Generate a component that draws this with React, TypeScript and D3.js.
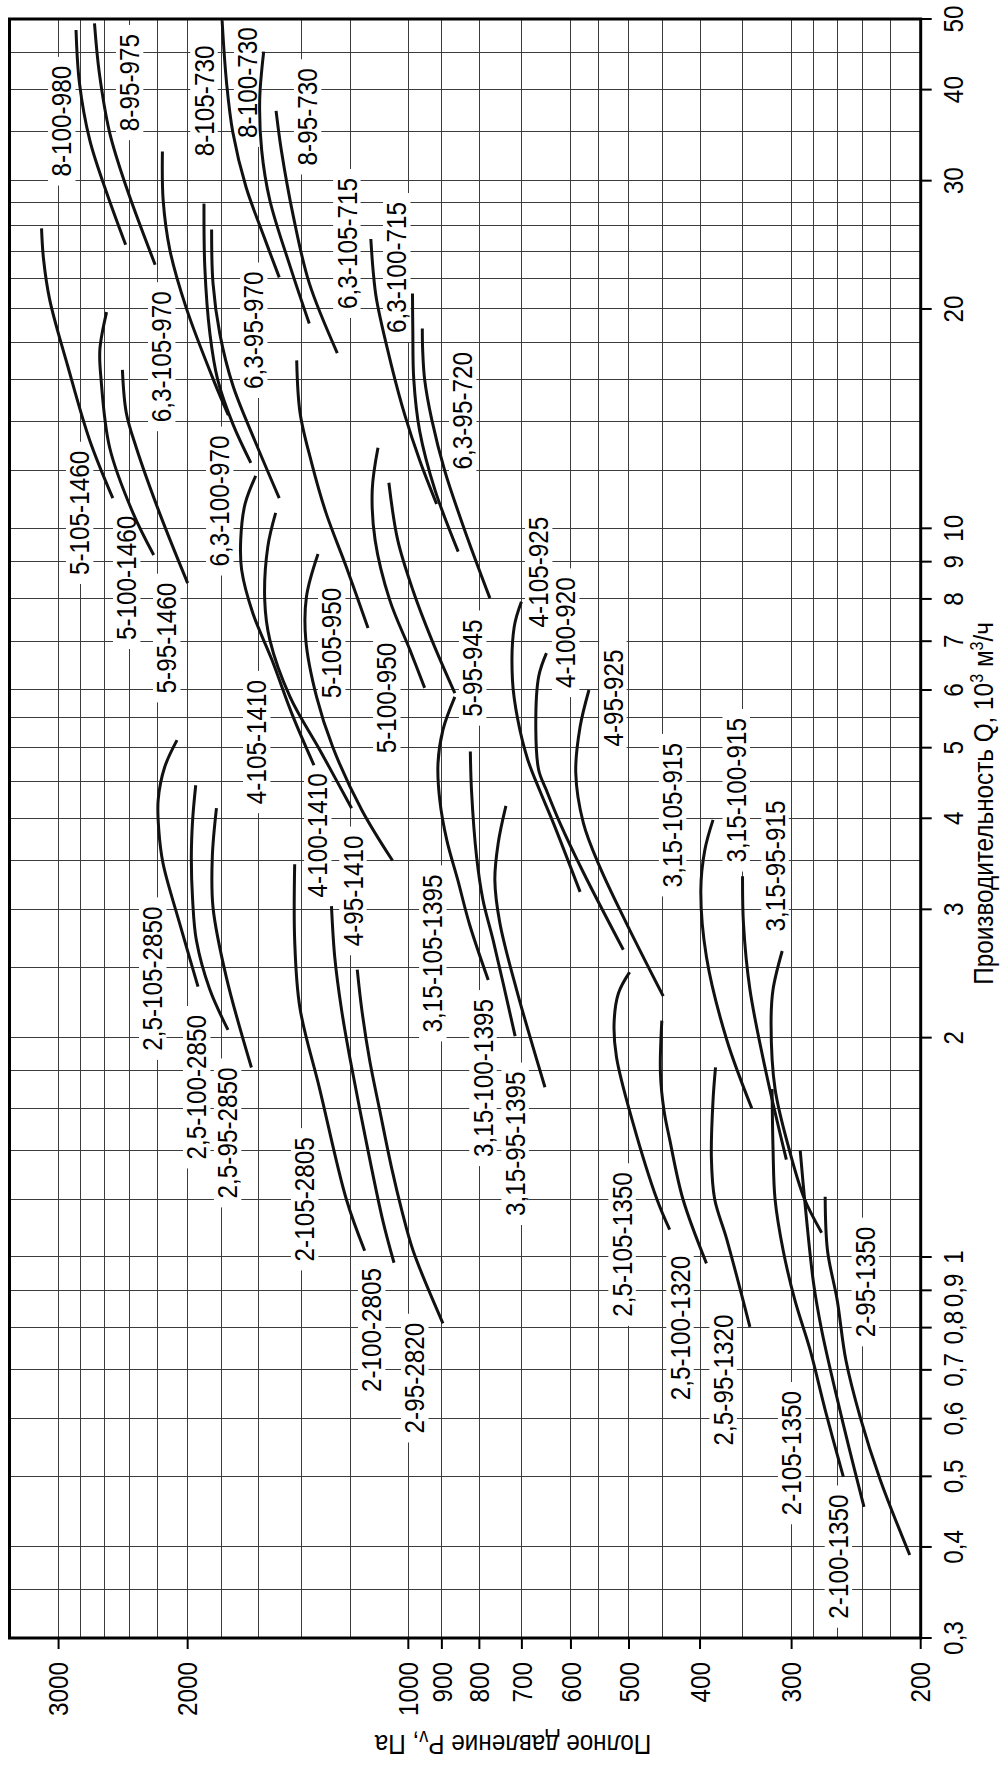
import * as d3 from "d3";
import { useEffect, useRef } from "react";

const W = 1001;
const H = 1765;

// линии сетки (Q в тыс. м3/ч, P в Па)
const qGrid = [0.35, 0.4, 0.5, 0.6, 0.7, 0.8, 0.9, 1, 1.2, 1.4, 1.6, 1.8, 2, 2.5, 3, 3.5, 4, 4.5, 5, 5.5, 6, 7, 8, 9, 10,
  12, 14, 16, 18, 20, 22, 24, 26, 28, 30, 35, 40, 45];
const pGrid = [220, 240, 260, 280, 300, 350, 400, 450, 500, 550, 600, 700, 800, 900, 1000, 1200, 1400, 1600, 1800, 2000,
  2200, 2400, 2600, 2800, 3000];

// деления и подписи осей
const qTicks = [0.3, 0.4, 0.5, 0.6, 0.7, 0.8, 0.9, 1, 2, 3, 4, 5, 6, 7, 8, 9, 10, 20, 30, 40, 50];
const qTickLabels = ["0,3", "0,4", "0,5", "0,6", "0,7", "0,8", "0,9", "1", "2", "3", "4", "5", "6", "7", "8", "9", "10",
  "20", "30", "40", "50"];
const pTicks = [200, 300, 400, 500, 600, 700, 800, 900, 1000, 2000, 3000];
const pTickLabels = ["200", "300", "400", "500", "600", "700", "800", "900", "1000", "2000", "3000"];

// характеристики вентиляторов: имя, точки Q и P
const curveNames = [
  "8-100-980", "8-95-975", "8-105-730", "8-100-730", "8-95-730",
  "6,3-105-970", "6,3-100-970", "6,3-95-970", "6,3-105-715", "6,3-100-715", "6,3-95-720",
  "5-105-1460", "5-100-1460", "5-95-1460", "5-105-950", "5-100-950", "5-95-945",
  "4-105-1410", "4-100-1410", "4-95-1410", "4-105-925", "4-100-920", "4-95-925",
  "3,15-105-1395", "3,15-100-1395", "3,15-95-1395", "3,15-105-915", "3,15-100-915", "3,15-95-915",
  "2,5-105-2850", "2,5-100-2850", "2,5-95-2850", "2,5-105-1350", "2,5-100-1320", "2,5-95-1320",
  "2-105-2805", "2-100-2805", "2-95-2820", "2-105-1350", "2-100-1350", "2-95-1350",
];

const curveQ = [
  [48.3, 40.9, 34.1, 28.9, 24.5],
  [49.3, 42.2, 34.9, 29.4, 23.0],
  [49.8, 40.9, 34.9, 29.4, 25.4, 22.1],
  [45.1, 38.7, 33.0, 28.2, 22.9, 19.1],
  [37.4, 33.0, 26.8, 21.7, 17.4],
  [32.9, 28.2, 24.1, 20.1, 16.0, 14.3],
  [27.9, 22.8, 18.5, 16.0, 13.9, 12.3],
  [25.7, 21.7, 18.5, 15.7, 13.2, 11.0],
  [24.95, 22.6, 20.6, 16.7, 14.3, 12.4, 10.8],
  [21.0, 18.7, 16.0, 13.6, 11.3, 9.29],
  [18.8, 17.6, 16.0, 14.1, 12.0, 9.95, 8.02],
  [25.8, 23.4, 20.6, 16.7, 13.2, 11.0],
  [19.8, 17.6, 16.0, 12.9, 10.5, 9.19],
  [16.5, 14.4, 12.9, 10.5, 8.41],
  [17.0, 14.4, 12.3, 10.5, 8.85, 7.30],
  [12.9, 11.3, 9.64, 7.97, 6.81, 6.04],
  [11.55, 9.64, 8.23, 7.03, 5.94],
  [11.8, 10.8, 9.64, 8.77, 7.65, 6.60, 5.55, 4.73],
  [10.5, 9.43, 7.97, 7.03, 5.87, 4.96, 4.13],
  [9.22, 8.06, 7.03, 5.87, 5.01, 4.11, 3.50],
  [7.93, 7.33, 6.19, 5.46, 4.81, 4.37, 3.94, 3.17],
  [6.74, 6.26, 5.29, 4.66, 4.37, 3.94, 3.37, 2.64],
  [6.00, 5.34, 4.62, 3.94, 3.43, 2.87, 2.28],
  [5.87, 5.29, 4.76, 4.24, 3.73, 3.29, 2.86, 2.40],
  [4.94, 4.37, 3.54, 3.09, 2.72, 2.01],
  [4.16, 3.70, 3.29, 2.87, 2.33, 1.71],
  [3.98, 3.62, 3.19, 2.58, 1.99, 1.60],
  [3.33, 2.87, 2.33, 1.79, 1.36],
  [2.63, 2.33, 2.09, 1.70, 1.40, 1.20, 1.08],
  [5.12, 4.70, 4.24, 3.86, 3.47, 2.87, 2.35],
  [4.44, 3.98, 3.54, 3.09, 2.72, 2.33, 2.05],
  [4.13, 3.54, 3.02, 2.42, 1.82],
  [2.46, 2.30, 2.09, 1.88, 1.53, 1.20, 1.09],
  [2.11, 1.79, 1.59, 1.45, 1.20, 0.98],
  [1.82, 1.64, 1.37, 1.20, 1.06, 0.802],
  [3.46, 2.72, 2.20, 1.70, 1.20, 1.02],
  [3.03, 2.58, 2.18, 1.88, 1.45, 1.12, 0.982],
  [2.48, 2.18, 1.86, 1.59, 1.32, 1.16, 1.02, 0.811],
  [1.70, 1.40, 1.20, 1.02, 0.873, 0.745, 0.617, 0.499],
  [1.40, 1.20, 0.920, 0.794, 0.671, 0.552, 0.454],
  [1.21, 1.02, 0.873, 0.722, 0.604, 0.494, 0.390],
];

const curveP = [
  [2840, 2810, 2720, 2580, 2430],
  [2680, 2640, 2555, 2425, 2215],
  [1795, 1770, 1735, 1665, 1580, 1500],
  [1575, 1595, 1585, 1545, 1450, 1365],
  [1515, 1490, 1435, 1365, 1250],
  [2165, 2160, 2115, 2010, 1845, 1760],
  [1900, 1895, 1865, 1820, 1735, 1640],
  [1855, 1847, 1808, 1735, 1620, 1500],
  [1125, 1117, 1105, 1054, 1011, 965, 915],
  [987, 986, 983, 965, 920, 855],
  [957, 956, 950, 929, 892, 838, 774],
  [3165, 3145, 3085, 2915, 2720, 2530],
  [2580, 2635, 2625, 2555, 2375, 2225],
  [2455, 2425, 2350, 2185, 2000],
  [1420, 1405, 1355, 1295, 1215, 1135],
  [1100, 1120, 1110, 1060, 995, 950],
  [1063, 1034, 986, 929, 864],
  [1615, 1670, 1693, 1688, 1630, 1535, 1440, 1345],
  [1517, 1555, 1570, 1545, 1450, 1320, 1195],
  [1328, 1377, 1380, 1334, 1268, 1158, 1051],
  [701, 717, 721, 709, 687, 662, 634, 583],
  [648, 664, 670, 664, 648, 621, 577, 509],
  [567, 583, 591, 577, 548, 504, 449],
  [864, 897, 911, 906, 886, 856, 825, 778],
  [823, 820, 807, 791, 766, 715],
  [736, 754, 762, 750, 712, 651],
  [384, 394, 399, 392, 368, 340],
  [350, 349, 342, 325, 305],
  [309, 318, 320, 316, 302, 288, 273],
  [2068, 2150, 2194, 2190, 2161, 2051, 1936],
  [1950, 1969, 1977, 1969, 1946, 1866, 1762],
  [1827, 1851, 1847, 1771, 1637],
  [499, 517, 524, 520, 494, 458, 440],
  [451, 453, 448, 440, 422, 392],
  [381, 384, 386, 382, 368, 342],
  [1429, 1429, 1406, 1321, 1215, 1147],
  [1273, 1260, 1233, 1202, 1143, 1083, 1046],
  [1174, 1157, 1129, 1094, 1053, 1021, 985, 897],
  [319, 318, 316, 308, 297, 283, 270, 255],
  [292, 288, 280, 273, 263, 251, 239],
  [270, 268, 260, 253, 242, 227, 207],
];

// где стоит подпись каждой кривой (в единицах Q и P)
const labelQ = [36.2, 40.9, 38.6, 40.9, 36.7, 17.2, 10.9, 18.7, 24.6, 22.8, 14.5, 10.5, 8.55, 7.07, 6.96, 5.85, 6.43,
  5.09, 3.79, 3.18, 8.71, 7.19, 5.85, 2.61, 1.76, 1.43, 4.04, 4.37, 3.44, 2.41, 1.71, 1.48, 1.04, 0.799, 0.678,
  1.2, 0.794, 0.682, 0.538, 0.388, 0.924];
const labelP = [2970, 2400, 1900, 1656, 1372, 2170, 1808, 1625, 1213, 1037, 843, 2808, 2422, 2136, 1272, 1070, 817,
  1610, 1329, 1190, 664, 610, 526, 926, 791, 715, 436, 357, 316, 2232, 1944, 1764, 511, 426, 372,
  1385, 1122, 980, 300, 259, 238];

const FONT = "'Liberation Sans', Arial, sans-serif";
const FS = 27;
const SX = 0.9;

const App = () => {
  const ref = useRef<SVGSVGElement>(null);

  useEffect(() => {
    const svg = d3.select(ref.current);
    svg.selectAll("*").remove();

    const margin = { top: 19, bottom: 127, left: 9.5, right: 80.3 };
    const x = d3.scaleLog().domain([200, 3500]).range([W - margin.right, margin.left]);
    const y = d3.scaleLog().domain([0.3, 50]).range([H - margin.bottom, margin.top]);
    const x0 = x(3500), x1 = x(200), y0 = y(50), y1 = y(0.3);

    svg.append("rect").attr("width", W).attr("height", H).attr("fill", "#fff");

    // сетка
    const grid = svg.append("g").attr("stroke", "#3c3c3c").attr("stroke-width", 1).attr("shape-rendering", "crispEdges");
    grid.selectAll(".gp").data(pGrid).join("line")
      .attr("x1", d => x(d)).attr("x2", d => x(d)).attr("y1", y0).attr("y2", y1);
    grid.selectAll(".gq").data(qGrid).join("line")
      .attr("y1", d => y(d)).attr("y2", d => y(d)).attr("x1", x0).attr("x2", x1);

    // подписи кривых на белой подложке
    const labels = svg.append("g").attr("font-family", FONT).attr("font-size", FS);
    curveNames.forEach((name, i) => {
      const g = labels.append("g").attr("transform", `translate(${x(labelP[i])},${y(labelQ[i])}) rotate(-90)`);
      const rect = g.append("rect").attr("fill", "#fff");
      const t = g.append("text")
        .attr("text-anchor", "middle")
        .attr("y", FS * 0.358)
        .attr("transform", `scale(${SX},1)`)
        .text(name);
      const len = (t.node() as SVGTextElement).getComputedTextLength() * SX;
      rect.attr("x", -len / 2 - 9).attr("width", len + 18)
        .attr("y", -FS * 0.36 - 4).attr("height", FS * 0.72 + 8);
    });

    // кривые
    const line = d3.line<[number, number]>()
      .x(d => x(d[1]))
      .y(d => y(d[0]))
      .curve(d3.curveCatmullRom.alpha(0.5));
    svg.append("g").selectAll("path")
      .data(curveQ.map((qs, i) => qs.map((q, j) => [q, curveP[i][j]] as [number, number])))
      .join("path")
      .attr("d", d => line(d))
      .attr("fill", "none")
      .attr("stroke", "#111")
      .attr("stroke-width", 3);

    // рамка и деления
    svg.append("rect").attr("x", x0).attr("y", y0).attr("width", x1 - x0).attr("height", y1 - y0)
      .attr("fill", "none").attr("stroke", "#000").attr("stroke-width", 3);
    const ticks = svg.append("g").attr("stroke", "#000").attr("stroke-width", 2);
    ticks.selectAll(".tq").data(qTicks).join("line")
      .attr("x1", x1).attr("x2", x1 + 11).attr("y1", d => y(d)).attr("y2", d => y(d));
    ticks.selectAll(".tp").data(pTicks).join("line")
      .attr("y1", y1).attr("y2", y1 + 11).attr("x1", d => x(d)).attr("x2", d => x(d));

    const axText = svg.append("g").attr("font-family", FONT).attr("font-size", FS).attr("fill", "#000");
    qTicks.forEach((q, i) => {
      axText.append("text")
        .attr("transform", `translate(${x1 + 42},${y(q)}) rotate(-90) scale(${SX},1)`)
        .attr("text-anchor", "middle")
        .text(qTickLabels[i]);
    });
    pTicks.forEach((p, i) => {
      axText.append("text")
        .attr("transform", `translate(${x(p) + 9.7},${y1 + 24}) rotate(-90) scale(${SX},1)`)
        .attr("text-anchor", "end")
        .text(pTickLabels[i]);
    });

    // названия осей
    const qTitle = axText.append("text")
      .attr("transform", `translate(${x1 + 72},622) rotate(-90) scale(${SX},1)`)
      .attr("text-anchor", "end");
    qTitle.append("tspan").text("Производительность Q, 10");
    qTitle.append("tspan").attr("font-size", 18).attr("dy", -10).text("3");
    qTitle.append("tspan").attr("dy", 10).text(" м");
    qTitle.append("tspan").attr("font-size", 18).attr("dy", -10).text("3");
    qTitle.append("tspan").attr("dy", 10).text("/ч");

    const pTitle = axText.append("text")
      .attr("transform", `translate(513,1735) rotate(180) scale(${SX},1)`)
      .attr("text-anchor", "middle");
    pTitle.append("tspan").text("Полное давление Р");
    pTitle.append("tspan").attr("font-size", 20).attr("dy", 4).text("v");
    pTitle.append("tspan").attr("dy", -4).text(", Па");
  }, []);

  return (
    <svg ref={ref} width={W} height={H} style={{ position: "absolute", left: 0, top: 0 }}></svg>
  );
};

export default App;
